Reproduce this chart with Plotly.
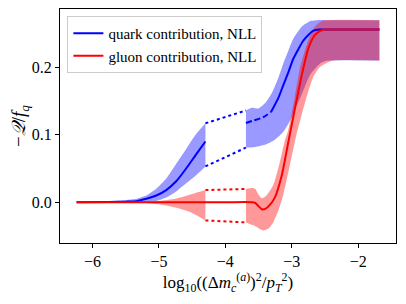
import plotly.graph_objects as go

# ---------------- data ----------------
# segment 1 (left of gap)
q1_x = [-6.24, -5.75, -5.5, -5.34, -5.19, -5.04, -4.89, -4.74, -4.59, -4.44, -4.3]
q1_mid = [0, 0.0003, 0.0008, 0.0015, 0.005, 0.010, 0.018, 0.031, 0.050, 0.071, 0.090]
q1_top = [0, 0.0015, 0.003, 0.005, 0.010, 0.020, 0.035, 0.057, 0.079, 0.101, 0.117]
q1_bot = [0, 0, 0, 0.0003, 0.001, 0.002, 0.007, 0.016, 0.028, 0.040, 0.053]

g1_x = [-6.24, -5.75, -5.5, -5.25, -5.0, -4.75, -4.5, -4.3]
g1_top = [0, 0, 0.0005, 0.001, 0.002, 0.005, 0.012, 0.018]
g1_bot = [0, 0, -0.0005, -0.001, -0.003, -0.008, -0.016, -0.027]

# segment 2 (right of gap)
q2_x_top = [-3.69, -3.6, -3.5, -3.4, -3.3, -3.2, -3.13, -3.05, -2.98, -2.9, -2.83, -2.71, -2.62, -2.5, -1.68]
q2_top = [0.136, 0.140, 0.139, 0.147, 0.162, 0.185, 0.205, 0.225, 0.242, 0.254, 0.262, 0.269, 0.270, 0.270, 0.270]
q2_x_bot = [-3.69, -3.55, -3.38, -3.25, -3.13, -3.03, -2.95, -2.88, -2.8, -2.73, -2.63, -2.55, -2.45, -1.68]
q2_bot = [0.081, 0.082, 0.086, 0.093, 0.104, 0.120, 0.138, 0.153, 0.172, 0.188, 0.200, 0.207, 0.210, 0.210]

q2_dash_x = [-3.69, -3.58, -3.43, -3.31]
q2_dash_y = [0.1175, 0.121, 0.126, 0.134]
q2_solid_x = [-3.31, -3.2, -3.13, -3.05, -2.98, -2.9, -2.83, -2.75, -2.68, -2.58, -2.45, -1.68]
q2_solid_y = [0.134, 0.155, 0.173, 0.193, 0.212, 0.227, 0.239, 0.248, 0.254, 0.256, 0.256, 0.256]

g2_x_top = [-3.69, -3.6, -3.55, -3.5, -3.45, -3.38, -3.28, -3.18, -3.11, -3.05, -2.96, -2.88, -2.78, -2.68, -2.58, -2.5, -1.68]
g2_top = [0.0197, 0.021, 0.020, 0.011, 0.006, 0.010, 0.025, 0.059, 0.089, 0.108, 0.153, 0.198, 0.232, 0.257, 0.267, 0.270, 0.270]
g2_x_bot = [-3.69, -3.56, -3.43, -3.35, -3.28, -3.2, -3.13, -3.03, -2.93, -2.85, -2.78, -2.68, -2.58, -2.48, -2.38, -1.68]
g2_bot = [-0.030, -0.035, -0.042, -0.039, -0.030, -0.012, 0.010, 0.054, 0.100, 0.130, 0.155, 0.185, 0.200, 0.206, 0.210, 0.210]

g_mid_x = [-6.24, -4.0, -3.6, -3.55, -3.5, -3.45, -3.4, -3.33, -3.25, -3.15, -3.05, -2.95, -2.85, -2.75, -2.65, -2.55, -2.45, -1.68]
g_mid_y = [0, 0, 0, -0.001, -0.006, -0.0105, -0.010, -0.004, 0.008, 0.040, 0.090, 0.140, 0.188, 0.228, 0.248, 0.255, 0.256, 0.256]

# dotted connectors across the gap
gap_x = [-4.3, -3.69]
q_top_gap = [0.117, 0.136]
q_bot_gap = [0.053, 0.081]
g_top_gap = [0.018, 0.0197]
g_bot_gap = [-0.027, -0.030]

labels = ["quark contribution, NLL", "gluon contribution, NLL"]

BLUE = "#0000ff"
RED = "#ff0000"
BFILL = "rgba(0,0,255,0.4)"
RFILL = "rgba(255,0,0,0.4)"
SM = 0.6

fig = go.Figure()


def band(xb, yb, xt, yt, fill):
    fig.add_trace(go.Scatter(x=xb, y=yb, mode="lines", line=dict(width=0, shape="spline", smoothing=SM),
                             showlegend=False, hoverinfo="skip"))
    fig.add_trace(go.Scatter(x=xt, y=yt, mode="lines", line=dict(width=0, shape="spline", smoothing=SM),
                             fill="tonexty", fillcolor=fill, showlegend=False, hoverinfo="skip"))


# bands
band(q1_x, q1_bot, q1_x, q1_top, BFILL)
band(q2_x_bot, q2_bot, q2_x_top, q2_top, BFILL)
band(g1_x, g1_bot, g1_x, g1_top, RFILL)
band(g2_x_bot, g2_bot, g2_x_top, g2_top, RFILL)

# dotted gap lines
for yy, c in [(q_top_gap, BLUE), (q_bot_gap, BLUE), (g_top_gap, RED), (g_bot_gap, RED)]:
    fig.add_trace(go.Scatter(x=gap_x, y=yy, mode="lines", line=dict(color=c, width=2, dash="dot"),
                             showlegend=False, hoverinfo="skip"))

# quark central
fig.add_trace(go.Scatter(x=q1_x, y=q1_mid, mode="lines", name=labels[0], legendrank=1,
                         line=dict(color=BLUE, width=2, shape="spline", smoothing=SM)))
fig.add_trace(go.Scatter(x=q2_dash_x, y=q2_dash_y, mode="lines", showlegend=False,
                         line=dict(color=BLUE, width=2, dash="6px,3px", shape="spline", smoothing=SM)))
fig.add_trace(go.Scatter(x=q2_solid_x, y=q2_solid_y, mode="lines", showlegend=False,
                         line=dict(color=BLUE, width=2, shape="spline", smoothing=SM)))
# gluon central
fig.add_trace(go.Scatter(x=g_mid_x, y=g_mid_y, mode="lines", name=labels[1], legendrank=2,
                         line=dict(color=RED, width=2, shape="spline", smoothing=SM)))

FONT = "Liberation Serif"
axis_common = dict(showline=True, mirror=True, linecolor="black", linewidth=1, ticks="outside",
                   ticklen=4, tickcolor="black", showgrid=False, zeroline=False, automargin=False,
                   tickfont=dict(family=FONT, size=16, color="black"))

# page body adds an 8px offset, so the figure is sized to fit the 406x304 window
fig.update_layout(
    width=398, height=296,
    margin=dict(l=52, r=10, t=1, b=61),
    paper_bgcolor="white", plot_bgcolor="white",
    font=dict(family=FONT, color="black"),
    xaxis=dict(range=[-6.49, -1.43], tickvals=[-6, -5, -4, -3, -2],
               ticktext=["\u22126", "\u22125", "\u22124", "\u22123", "\u22122"],
               title=dict(text="log<sub>10</sub>((\u0394<i>m</i><sub><i>c</i></sub><sup>(<i>a</i>)</sup>)<sup>2</sup>/<i>p</i><sub><i>T</i></sub><sup>2</sup>)",
                          font=dict(family=FONT, size=17), standoff=6),
               **axis_common),
    yaxis=dict(range=[-0.0605, 0.2865], tickvals=[0.0, 0.1, 0.2], ticktext=["0.0", "0.1", "0.2"],
               title=dict(text="\u2212<i>\U0001D4AC</i>/<i>f</i><sub><i>q</i></sub>",
                          font=dict(family=FONT, size=19), standoff=8),
               **axis_common),
    legend=dict(x=0.022, y=0.97, xanchor="left", yanchor="top", traceorder="normal",
                bgcolor="rgba(255,255,255,0.8)", bordercolor="#cccccc", borderwidth=1,
                font=dict(family=FONT, size=15), tracegroupgap=0, itemwidth=30),
    showlegend=True,
)

fig.write_html("out.html")
